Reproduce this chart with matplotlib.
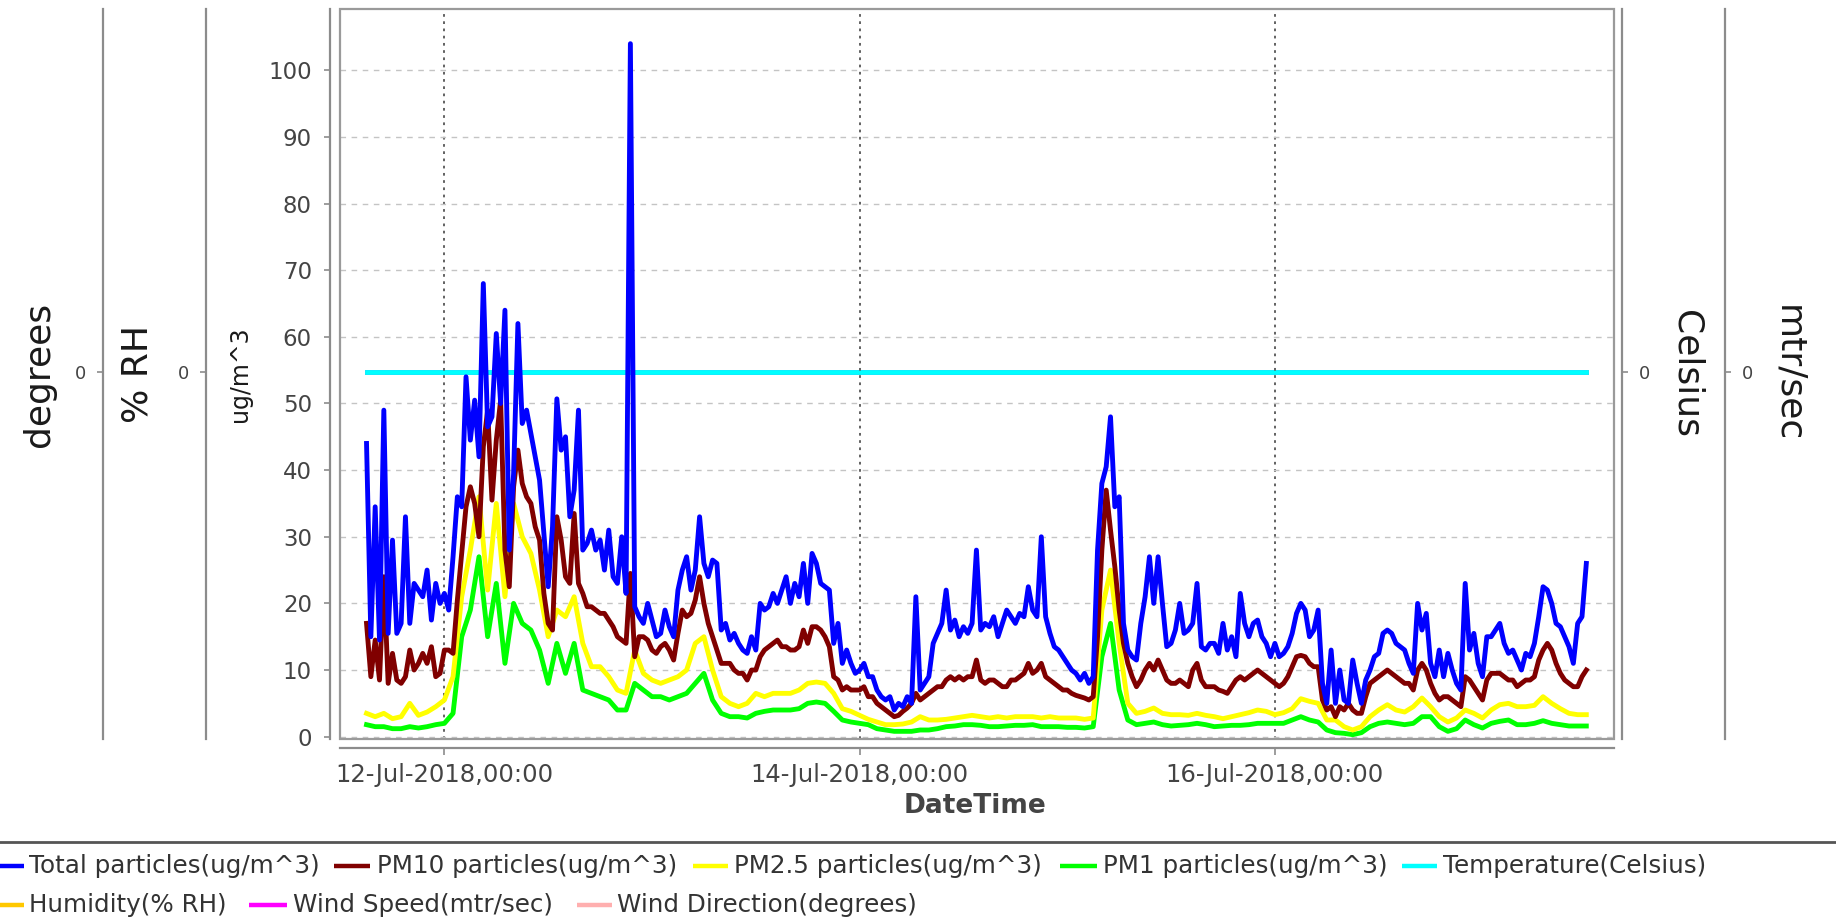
import numpy as np
import matplotlib
matplotlib.use("Agg")
import matplotlib.pyplot as plt
import matplotlib.dates as mdates
from matplotlib.lines import Line2D
from matplotlib.patches import Rectangle

plt.rcParams['font.family'] = ['DejaVu Sans']

# ---------------- data ----------------
start_time = np.datetime64('2018-07-11T15:00')

# half-hourly series (ug/m^3)
total_particles = [
    44, 15, 34.5, 14.5, 49, 15.5, 29.5, 15.5, 17, 33, 17, 23,
    22, 21, 25, 17.5, 23, 20, 21.5, 19, 27, 36, 34.5, 54,
    44.5, 50.5, 42, 68, 46.5, 48, 60.5, 50, 64, 28, 39.5, 62,
    47, 49, 45.5, 42, 38.5, 30.5, 22.5, 31.5, 50.7, 43, 45, 33,
    37, 49, 28, 29, 31, 28, 29.5, 25, 31, 24, 23, 30,
    21.5, 104, 19.5, 18, 17, 20, 17.5, 15, 15.5, 19, 16.5, 15,
    22, 25, 27, 22, 25, 33, 26, 24, 26.5, 26, 16, 17,
    14.5, 15.5, 14, 13, 12.5, 15, 13, 20, 19, 19.5, 21.5, 20,
    22, 24, 20, 23, 21, 26, 20, 27.5, 26, 23, 22.5, 22,
    14, 17, 11, 13, 11, 9.5, 10, 11, 9, 9, 7, 6,
    5.5, 6, 4, 5, 4.5, 6, 5, 21, 7, 8, 9, 14,
    15.5, 17, 22, 16, 17.5, 15, 16.5, 15.5, 17, 28, 16, 17,
    16.5, 18, 15, 17, 19, 18, 17, 18.5, 18, 22.5, 19, 18,
    30, 18, 15.5, 13.5, 13, 12, 11, 10, 9.5, 8.5, 9.5, 8,
    9, 28, 38, 40.5, 48, 34.5, 36, 17, 13, 12, 11.5, 17,
    21, 27, 20, 27, 20, 13.5, 14, 16, 20, 15.5, 16, 17,
    23, 13.5, 13, 14, 14, 12.5, 17, 13, 15, 12, 21.5, 17,
    15, 17, 17.5, 15, 14, 12, 14, 12, 12.5, 13.5, 15.5, 18.5,
    20, 19, 15, 16, 19, 8, 5, 13, 5, 10, 5.5, 5,
    11.5, 8, 5, 8.5, 10, 12, 12.5, 15.5, 16, 15.5, 14, 13.5,
    13, 11, 9.5, 20, 16, 18.5, 11, 9, 13, 9, 12.5, 10,
    8, 7, 23, 13, 15.5, 11, 9, 15, 15, 16, 17, 14,
    12.5, 13, 11.5, 10, 12.5, 12, 14, 18, 22.5, 22, 20, 17,
    16.5, 15, 13.5, 11, 17, 18, 26,
]
pm10_particles = [
    17, 9, 14.5, 8.5, 24, 8, 12.5, 8.5, 8, 9, 13, 10,
    11, 12.5, 11, 13.5, 9, 9.5, 13, 13, 12.5, 20.5, 27.5, 34.5,
    37.5, 35, 30, 43.5, 49, 35.5, 44.5, 50.5, 28, 22.5, 37.5, 43,
    38, 36, 35, 31.5, 29.5, 21.5, 17, 16, 33, 29.5, 24, 23,
    33.5, 23, 21.5, 19.5, 19.5, 19, 18.5, 18.5, 17.5, 16.5, 15, 14.5,
    14, 24.5, 12, 15, 15, 14.5, 13, 12.5, 13.5, 14, 13, 11.5,
    15.5, 19, 18, 18.5, 20.5, 24, 20, 17, 15, 13, 11, 11,
    11, 10, 9.5, 9.5, 8.5, 10, 10, 12, 13, 13.5, 14, 14.5,
    13.5, 13.5, 13, 13, 13.5, 16, 14, 16.5, 16.5, 16, 15, 13.5,
    9, 8.5, 7, 7.5, 7, 7, 7, 7.5, 6, 6, 5, 4.5,
    4, 3.5, 3, 3.2, 3.8, 4.3, 5, 6.5, 5.5, 6, 6.5, 7,
    7.5, 7.5, 8.5, 9, 8.5, 9, 8.5, 9, 9, 11.5, 8.5, 8,
    8.5, 8.5, 8, 7.5, 7.5, 8.5, 8.5, 9, 9.5, 11, 9.5, 10,
    11, 9, 8.5, 8, 7.5, 7, 7, 6.5, 6.2, 6, 5.8, 5.5,
    6, 15, 28, 37, 31, 25.5, 19, 14, 11, 9, 7.5, 8.5,
    10, 11, 10, 11.5, 10, 8.5, 8, 8, 8.5, 8, 7.5, 10,
    11, 8.5, 7.5, 7.5, 7.5, 7, 6.8, 6.5, 7.5, 8.5, 9, 8.5,
    9, 9.5, 10, 9.5, 9, 8.5, 8, 7.5, 8, 9, 10.5, 12,
    12.2, 12, 11, 10.5, 10.5, 5.5, 4, 4.5, 3, 4.5, 4, 5,
    4, 3.5, 3.5, 6, 8, 8.5, 9, 9.5, 10, 9.5, 9, 8.5,
    8, 8, 7, 10, 11, 10, 8, 6.5, 5.5, 6, 6, 5.5,
    5, 4.5, 9, 8.5, 7.5, 6.5, 5.5, 8.5, 9.5, 9.5, 9.5, 9,
    8.5, 8.5, 7.5, 8, 8.5, 8.5, 9, 11.5, 13, 14, 13, 11,
    9.5, 8.5, 8, 7.5, 7.5, 9, 10,
]

# hourly series (ug/m^3)
pm25_particles = [
    3.5, 3, 3.5, 2.7, 3, 5, 3.2, 3.7, 4.5, 5.5,
    9, 21, 28, 36, 22, 35, 21, 35, 30, 27.5,
    22, 15, 19, 18, 21, 14, 10.5, 10.5, 9, 7,
    6.5, 13, 9.5, 8.5, 8, 8.5, 9, 10, 14, 15,
    10, 6, 5, 4.5, 5, 6.5, 6, 6.5, 6.5, 6.5,
    7, 8, 8.2, 8, 6.5, 4.2, 3.8, 3.2, 2.6, 2.2,
    1.8, 1.8, 1.9, 2.2, 3, 2.5, 2.5, 2.6, 2.8, 3,
    3.2, 3, 2.8, 3, 2.8, 3, 3, 3, 2.8, 3,
    2.8, 2.8, 2.8, 2.6, 2.8, 19, 25, 14, 5, 3.5,
    3.8, 4.3, 3.5, 3.3, 3.3, 3.2, 3.5, 3.2, 3, 2.7,
    3, 3.3, 3.6, 4, 3.8, 3.3, 3.6, 4.2, 5.7, 5.3,
    5, 2.5, 2.5, 1.5, 1, 1.5, 3, 4, 4.8, 4,
    3.7, 4.5, 5.8, 4.5, 3, 2.2, 2.8, 4, 3.5, 2.8,
    4, 4.8, 5, 4.5, 4.5, 4.7, 6, 5, 4.2, 3.5,
    3.3, 3.3,
]
pm1_particles = [
    1.8, 1.5, 1.5, 1.2, 1.2, 1.5, 1.3, 1.5, 1.8, 2,
    3.5, 15, 19, 27, 15, 23, 11, 20, 17, 16,
    13, 8, 14, 9.5, 14, 7, 6.5, 6, 5.5, 4,
    4, 8, 7, 6, 6, 5.5, 6, 6.5, 8, 9.5,
    5.5, 3.5, 3, 3, 2.8, 3.5, 3.8, 4, 4, 4,
    4.2, 5, 5.2, 5, 3.8, 2.5, 2.2, 2, 1.8, 1.2,
    1, 0.8, 0.8, 0.8, 1, 1, 1.2, 1.5, 1.6, 1.8,
    1.8, 1.7, 1.5, 1.5, 1.6, 1.7, 1.7, 1.8, 1.5, 1.5,
    1.5, 1.4, 1.4, 1.3, 1.5, 12, 17, 7, 2.5, 1.8,
    2, 2.2, 1.8, 1.6, 1.7, 1.8, 2, 1.8, 1.5, 1.6,
    1.7, 1.7, 1.8, 2, 2, 2, 2, 2.5, 3, 2.5,
    2.2, 1, 0.6, 0.5, 0.3, 0.6, 1.5, 2, 2.2, 2,
    1.8, 2, 3, 3, 1.5, 0.8, 1.2, 2.5, 1.8, 1.3,
    2, 2.3, 2.5, 1.8, 1.8, 2, 2.4, 2, 1.8, 1.6,
    1.6, 1.6,
]
# other sensors (all read as 0 on their own axes)
temperature = [0.0] * len(pm25_particles)
humidity = [0.0] * len(pm25_particles)
wind_speed = [0.0] * len(pm25_particles)
wind_direction = [0.0] * len(pm25_particles)

t_half = start_time + np.arange(len(total_particles)) * np.timedelta64(30, 'm')
t_hour = start_time + np.arange(len(pm25_particles)) * np.timedelta64(60, 'm')

x_ticks = ['2018-07-12T00:00', '2018-07-14T00:00', '2018-07-16T00:00']
y_ticks = [0, 10, 20, 30, 40, 50, 60, 70, 80, 90, 100]

series_labels = ['Total particles(ug/m^3)', 'PM10 particles(ug/m^3)',
                 'PM2.5 particles(ug/m^3)', 'PM1 particles(ug/m^3)',
                 'Temperature(Celsius)', 'Humidity(% RH)',
                 'Wind Speed(mtr/sec)', 'Wind Direction(degrees)']
series_colors = ['#0000ff', '#800000', '#ffff00', '#00ff00',
                 '#00ffff', '#ffc800', '#ff00ff', '#ffafaf']

# ---------------- layout ----------------
W, H = 1836, 923
fig = plt.figure(figsize=(W / 100, H / 100), dpi=100)
fig.patch.set_facecolor('white')

L, R, T, B = 340, 1614, 9, 739
ax = fig.add_axes([L / W, 1 - B / H, (R - L) / W, (B - T) / H])

AXIS_C = '#8c8c8c'
TICK_TXT = '#444444'
LW = 3.5


def aux_axis(side, px, label, label_px, rot, zorder):
    a = ax.twinx()
    a.set_zorder(zorder)
    a.patch.set_visible(False)
    for s in a.spines.values():
        s.set_visible(False)
    sp = a.spines[side]
    sp.set_visible(True)
    sp.set_position(('axes', (px - L) / (R - L)))
    sp.set_color(AXIS_C)
    sp.set_linewidth(1.6)
    a.yaxis.set_ticks_position(side)
    a.set_ylim(-1.0, 0.99)
    a.set_yticks([0])
    a.set_yticklabels(['0'])
    a.tick_params(axis='y', colors=AXIS_C, labelcolor=TICK_TXT,
                  labelsize=13, length=4, width=1.2, pad=8)
    a.text((label_px - L) / (R - L), 0.5, label, transform=a.transAxes,
           rotation=rot, ha='center', va='center', fontsize=26, color='#1a1a1a')
    return a


ax_deg = aux_axis('left', 103, 'degrees', 39, 90, 1.0)
ax_rh = aux_axis('left', 206, '% RH', 138, 90, 1.1)
ax_ms = aux_axis('right', 1725, 'mtr/sec', 1788, 270, 1.2)
ax_c = aux_axis('right', 1622, 'Celsius', 1686, 270, 1.5)

ax_deg.plot(t_hour, wind_direction, color=series_colors[7], lw=LW)
ax_rh.plot(t_hour, humidity, color=series_colors[5], lw=LW)
ax_ms.plot(t_hour, wind_speed, color=series_colors[6], lw=LW)
ax_c.plot(t_hour, temperature, color=series_colors[4], lw=LW)

# main axis on top
ax.set_zorder(3)
ax.patch.set_visible(False)
ax.plot(t_hour, pm1_particles, color=series_colors[3], lw=LW, solid_joinstyle='round')
ax.plot(t_hour, pm25_particles, color=series_colors[2], lw=LW, solid_joinstyle='round')
ax.plot(t_half, pm10_particles, color=series_colors[1], lw=LW, solid_joinstyle='round')
ax.plot(t_half, total_particles, color=series_colors[0], lw=LW, solid_joinstyle='round')

x0 = np.datetime64('2018-07-11T11:56')
x1 = np.datetime64('2018-07-17T15:12')
ax.set_xlim(x0, x1)
ax.set_ylim(-0.35, 109.2)
ax.set_yticks(y_ticks)
ax.set_xticks([np.datetime64(t) for t in x_ticks])
ax.xaxis.set_major_formatter(mdates.DateFormatter('%d-%b-%Y,%H:%M'))

ax.set_axisbelow(True)
ax.grid(axis='y', color='#c4c4c4', linestyle=(0, (4, 4)), linewidth=1.0)
ax.grid(axis='x', color='#555555', linestyle=(0, (1.5, 2.5)), linewidth=1.3)

for s in ['top', 'right']:
    ax.spines[s].set_visible(False)
ax.spines['left'].set_position(('outward', 7.2))
ax.spines['bottom'].set_position(('outward', 6.5))
for s in ['left', 'bottom']:
    ax.spines[s].set_color(AXIS_C)
    ax.spines[s].set_linewidth(1.6)
ax.add_patch(Rectangle((0, 0), 1, 1, transform=ax.transAxes, fill=False,
                       edgecolor='#9a9a9a', lw=1.6, clip_on=False, zorder=2.5))

ax.tick_params(axis='y', colors=AXIS_C, labelcolor=TICK_TXT, labelsize=16.5,
               length=4, width=1.2, pad=9)
ax.tick_params(axis='x', colors=AXIS_C, labelcolor=TICK_TXT, labelsize=17.5,
               length=5, width=1.2, pad=6)

ax.text((240 - L) / (R - L), 0.5, 'ug/m^3', transform=ax.transAxes, rotation=90,
        ha='center', va='center', fontsize=17, color='#1a1a1a')
fig.text(975 / W, 1 - 806 / H, 'DateTime', ha='center', va='center',
         fontsize=19, fontweight='bold', color=TICK_TXT)

# ---------------- legend ----------------
fig.add_artist(Line2D([0, 1], [1 - 842 / H, 1 - 842 / H], transform=fig.transFigure,
                      color='#555555', lw=2))
legend_rows = [
    # (series index, sample x0, sample x1, text x, row y)
    (0, -6, 24, 29, 866), (1, 334, 370, 377, 866), (2, 693, 728, 734, 866),
    (3, 1060, 1097, 1103, 866), (4, 1402, 1437, 1443, 866),
    (5, -6, 24, 29, 905), (6, 249, 287, 293, 905), (7, 577, 612, 617, 905),
]
for idx, sx0, sx1, tx, ry in legend_rows:
    yy = 1 - ry / H
    fig.add_artist(Line2D([sx0 / W, sx1 / W], [yy, yy], transform=fig.transFigure,
                          color=series_colors[idx], lw=3.2, solid_capstyle='butt'))
    fig.text(tx / W, yy, series_labels[idx], ha='left', va='center',
             fontsize=17.7, color='#333333')

fig.savefig('out.png', dpi=100, facecolor='white')
